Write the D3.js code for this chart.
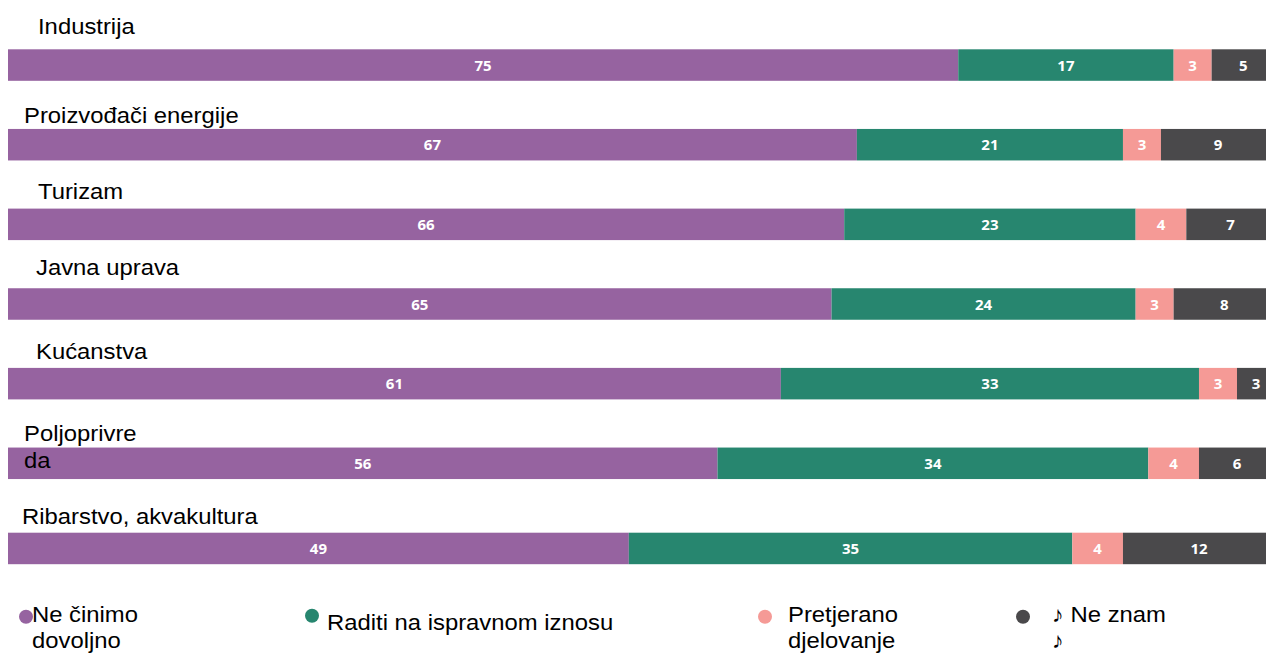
<!DOCTYPE html>
<html><head><meta charset="utf-8">
<script src="https://cdn.jsdelivr.net/npm/d3@7"></script>
<style>
html,body{margin:0;padding:0;background:#fff;}
svg{display:block;}
</style></head>
<body>
<svg id="chart" width="1266" height="653"></svg>
<script>
// ---- data ----
const categories = ["Industrija","Proizvođači energije","Turizam","Javna uprava","Kućanstva","Poljoprivreda","Ribarstvo, akvakultura"];
const labelLines = [["Industrija"],["Proizvođači energije"],["Turizam"],["Javna uprava"],["Kućanstva"],["Poljoprivre","da"],["Ribarstvo, akvakultura"]];
const seriesNames = ["Ne činimo dovoljno","Raditi na ispravnom iznosu","Pretjerano djelovanje","♪ Ne znam ♪"];
const legendLines = [["Ne činimo","dovoljno"],["Raditi na ispravnom iznosu"],["Pretjerano","djelovanje"],["♪ Ne znam","♪"]];
const notEnough  = [75,67,66,65,61,56,49];
const rightAmount= [17,21,23,24,33,34,35];
const tooMuch    = [3,3,4,3,3,4,4];
const dontKnow   = [5,9,7,8,3,6,12];

// ---- layout ----
const colors = ["#9663a0","#27866f","#f59a96","#4a494b"];
const labelIndent = [38,24,38,36,36,24,22];
const labelRaise  = [15.5,5.5,10,13.5,9,7,9];
const legendCircleX = [26,312,765,1023];
const legendCircleY = [616.7,615.7,616.7,616.7];
const legendTextX = [32,327,788,1052];
const sx = 1.06; // horizontal stretch of the text

const svg = d3.select("#chart");
const x = d3.scaleLinear().domain([0,100]).range([8,1275]);
const barH = 31.5;
const step = 79.65;
const y = d3.scaleBand().domain(categories)
  .range([49.3, 49.3 + step*6 + step*0.4]).paddingInner(0.6).paddingOuter(0).align(0);
const extra = (i)=> i===6 ? 5.5 : 0;

const rows = categories.map((c,i)=>({cat:c,i,vals:[notEnough[i],rightAmount[i],tooMuch[i],dontKnow[i]]}));
const stack = d3.stack().keys([0,1,2,3]).value((d,k)=>d.vals[k]);
const stacked = stack(rows);

const rowTop = (d)=> y(d.cat) + extra(d.i);

stacked.forEach((layer,k)=>{
  const g = svg.append("g");
  g.selectAll("rect").data(layer).join("rect")
    .attr("x",d=>x(d[0]))
    .attr("y",d=>rowTop(d.data))
    .attr("width",d=>x(d[1])-x(d[0]))
    .attr("height",barH)
    .attr("fill",colors[k]);
  g.selectAll("text").data(layer).join("text")
    .attr("x",d=>(x(d[0])+x(d[1]))/2)
    .attr("y",d=>rowTop(d.data)+barH/2+5.5)
    .attr("text-anchor","middle")
    .attr("fill","#fff")
    .attr("font-family","'Open Sans', sans-serif")
    .attr("font-weight","bold")
    .attr("font-size","15px")
    .text(d=>d[1]-d[0]);
});

function multiText(parent, tx, ty, lines, lh, size){
  const t = parent.append("text")
    .attr("transform",`translate(${tx},${ty}) scale(${sx},1)`)
    .attr("font-family","'Liberation Sans', Arial, sans-serif")
    .attr("font-size",size)
    .attr("fill","#000");
  lines.forEach((ln,j)=>{
    t.append("tspan").attr("x",0).attr("dy", j===0?0:lh).text(ln);
  });
  return t;
}

// category labels
const catG = svg.append("g");
rows.forEach(r=>{
  multiText(catG, labelIndent[r.i], rowTop(r)-labelRaise[r.i], labelLines[r.i], 27, "22.5px");
});

// legend
const lg = svg.append("g");
seriesNames.forEach((s,k)=>{
  const lines = legendLines[k];
  lg.append("circle").attr("cx",legendCircleX[k]).attr("cy",legendCircleY[k]).attr("r",7).attr("fill",colors[k]);
  multiText(lg, legendTextX[k], lines.length>1 ? 621.7 : 630, lines, 26.3, "22.5px");
});
</script>
</body></html>
